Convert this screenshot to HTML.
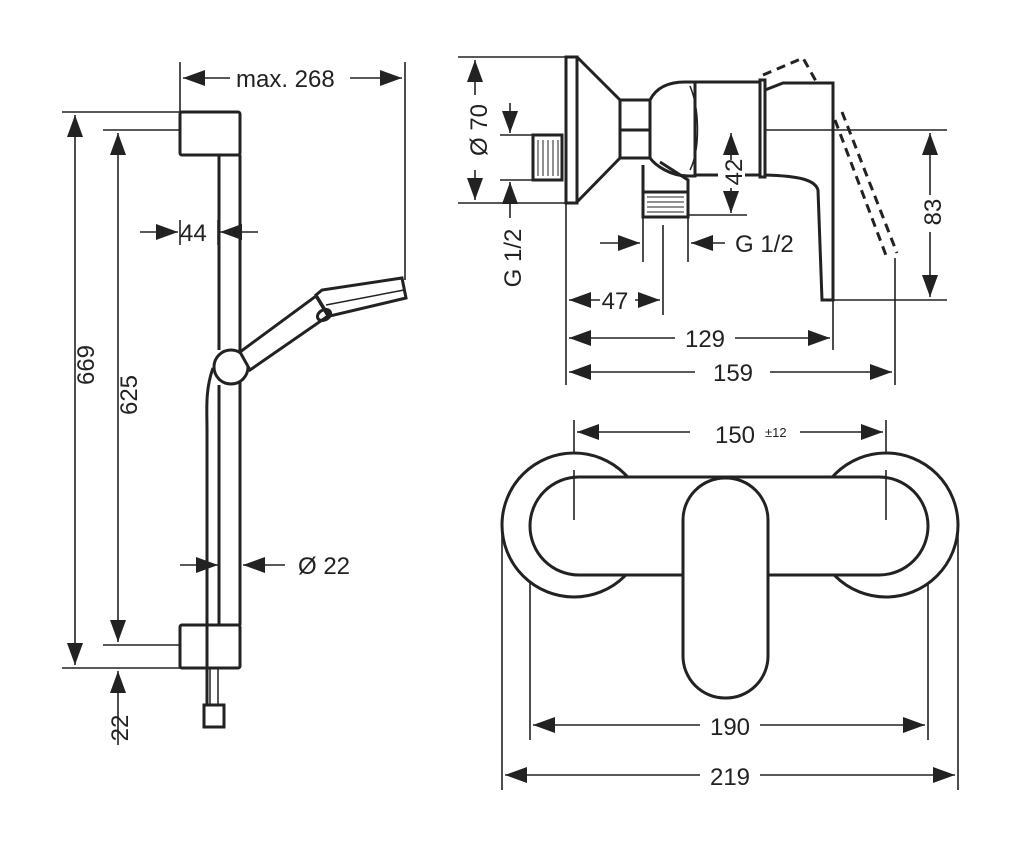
<!DOCTYPE html>
<html><head><meta charset="utf-8"><style>html,body{margin:0;padding:0;background:#fff}svg{display:block}</style></head>
<body>
<svg width="1024" height="842" viewBox="0 0 1024 842" xmlns="http://www.w3.org/2000/svg" font-family="Liberation Sans, sans-serif" font-size="24" fill="none" stroke="#222" stroke-width="3">
<defs>
<marker id="a" viewBox="0 0 22 16" refX="22" refY="8" markerWidth="22" markerHeight="16" markerUnits="userSpaceOnUse" orient="auto-start-reverse"><path d="M0 0L22 8L0 16z" fill="#222" stroke="none"/></marker>
</defs>
<g stroke-width="1.6">
<path d="M62 112H180M103 130H180M103 645H180M62 668H180M180 62V112M405 62V280M180 668H100"/>
<path d="M75 115V665" marker-start="url(#a)" marker-end="url(#a)"/>
<path d="M118 133V642" marker-start="url(#a)" marker-end="url(#a)"/>
<path d="M118 745V671" marker-end="url(#a)"/>
<path d="M230 78H183" marker-end="url(#a)"/><path d="M350 78H402" marker-end="url(#a)"/>
<path d="M140 232H178" marker-end="url(#a)"/><path d="M258 232H220" marker-end="url(#a)"/>
<path d="M180 220V245M218 220V245"/>
<path d="M180 565H218" marker-end="url(#a)"/><path d="M285 565H243" marker-end="url(#a)"/>
</g>
<text x="236" y="87" fill="#222" stroke="none">max. 268</text>
<text x="180" y="241" fill="#222" stroke="none">44</text>
<text x="298" y="574" fill="#222" stroke="none">Ø 22</text>
<text transform="translate(94,365) rotate(-90)" text-anchor="middle" fill="#222" stroke="none">669</text>
<text transform="translate(137,395) rotate(-90)" text-anchor="middle" fill="#222" stroke="none">625</text>
<text transform="translate(128,728) rotate(-90)" text-anchor="middle" fill="#222" stroke="none">22</text>
<rect x="180" y="112" width="60" height="43" rx="2"/>
<rect x="180" y="625" width="60" height="43" rx="2"/>
<path d="M219 155V350M240 155V625M219 385V625"/>
<path d="M213 368C205 390 207 410 207 430V705"/>
<rect x="204" y="705" width="20" height="22"/>
<path d="M210 668V705M218 668V705" stroke-width="1.5"/>
<circle cx="231" cy="367" r="17" fill="#fff"/>
<path d="M240 352L316 296L328 316L250 370z" fill="#fff"/>
<path d="M316 295L322 290L402 278L406 298L330 316L324 308z" fill="#fff"/>
<path d="M326 305L404 290" stroke-width="1.5"/>
<ellipse cx="324" cy="315" rx="7" ry="5" transform="rotate(-30 324 315)"/>
<g stroke-width="1.6">
<path d="M458 57H566M458 203H566M500 135H533M500 180H533"/>
<path d="M475 95V60" marker-end="url(#a)"/><path d="M475 170V200" marker-end="url(#a)"/>
<path d="M510 103V133" marker-end="url(#a)"/><path d="M510 218V182" marker-end="url(#a)"/>
<path d="M765 130H947M688 215H747M833 300H947"/>
<path d="M731 160V133" marker-end="url(#a)"/><path d="M731 188V213" marker-end="url(#a)"/>
<path d="M930 195V133" marker-end="url(#a)"/><path d="M930 232V297" marker-end="url(#a)"/>
<path d="M600 243H640" marker-end="url(#a)"/><path d="M725 243H691" marker-end="url(#a)"/>
<path d="M566 203V385M643 215V262M688 215V262M663 225V315M833 300V350M895 258V385"/>
<path d="M600 300H569" marker-end="url(#a)"/><path d="M635 300H660" marker-end="url(#a)"/>
<path d="M675 338H569" marker-end="url(#a)"/><path d="M735 338H830" marker-end="url(#a)"/>
<path d="M695 372H569" marker-end="url(#a)"/><path d="M770 372H892" marker-end="url(#a)"/>
</g>
<text transform="translate(487,130) rotate(-90)" text-anchor="middle" fill="#222" stroke="none">Ø 70</text>
<text transform="translate(521,258) rotate(-90)" text-anchor="middle" fill="#222" stroke="none">G 1/2</text>
<text transform="translate(742,172) rotate(-90)" text-anchor="middle" fill="#222" stroke="none">42</text>
<text transform="translate(941,212) rotate(-90)" text-anchor="middle" fill="#222" stroke="none">83</text>
<text x="735" y="252" fill="#222" stroke="none">G 1/2</text>
<text x="615" y="309" text-anchor="middle" fill="#222" stroke="none">47</text>
<text x="705" y="347" text-anchor="middle" fill="#222" stroke="none">129</text>
<text x="733" y="381" text-anchor="middle" fill="#222" stroke="none">159</text>
<rect x="566" y="57" width="11" height="146"/>
<path d="M577 57L620 100V158L577 202"/>
<rect x="533" y="135" width="29" height="45"/>
<path d="M538 140V176M543 140V176M548 140V176M553 140V176M558 140V176" stroke-width="1"/>
<rect x="620" y="100" width="30" height="58"/><path d="M620 130H650"/>
<path d="M650 100C655 90 665 82 685 82H695V176H688C670 176 655 165 650 158"/>
<path d="M690 86C700 110 700 150 690 170" stroke-width="1.5"/>
<path d="M695 82H760M695 175H718M745 175H760"/>
<path d="M643 165V217H688V180L660 162"/>
<path d="M643 192H688"/><path d="M647 197H684M647 202H684M647 207H684M647 212H684" stroke-width="1"/>
<path d="M760 80V177H765V80z"/>
<path d="M765 90L783 83H833V300H822L818 190C815 180 800 176 765 175"/>
<path d="M763 75L803 58L817 83M835 120L887 258M842 112L897 253" stroke-dasharray="9 6" stroke-width="3"/>
<g stroke-width="1.6">
<path d="M574 420V520M886 420V520M530 525V740M928 525V740M502 525V790M958 525V790"/>
<path d="M690 432H577" marker-end="url(#a)"/><path d="M800 432H883" marker-end="url(#a)"/>
<path d="M700 725H533" marker-end="url(#a)"/><path d="M760 725H925" marker-end="url(#a)"/>
<path d="M700 775H505" marker-end="url(#a)"/><path d="M760 775H955" marker-end="url(#a)"/>
</g>
<text x="735" y="443" text-anchor="middle" fill="#222" stroke="none">150</text>
<text x="765" y="437" font-size="13" fill="#222" stroke="none">±12</text>
<text x="730" y="735" text-anchor="middle" fill="#222" stroke="none">190</text>
<text x="730" y="785" text-anchor="middle" fill="#222" stroke="none">219</text>
<circle cx="574" cy="525" r="72" fill="#fff"/>
<circle cx="886" cy="525" r="72" fill="#fff"/>
<rect x="530" y="477" width="398" height="98" rx="49" fill="#fff"/>
<path d="M574 470V520M886 470V520" stroke-width="1.6"/>
<rect x="683" y="478" width="85" height="220" rx="42" fill="#fff"/>
</svg>
</body></html>
